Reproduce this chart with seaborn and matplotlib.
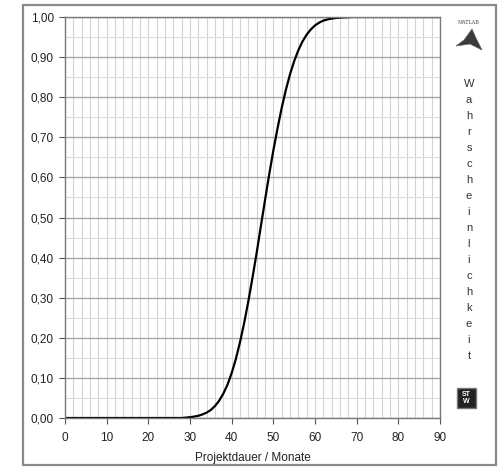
import matplotlib
matplotlib.use("Agg")
import matplotlib.pyplot as plt
import seaborn as sns
import pandas as pd
from matplotlib.patches import Rectangle, Polygon
from matplotlib.ticker import MultipleLocator, FuncFormatter

# ---- data ----
months = list(range(0, 91))
prob = ([0.0] * 29 +
        [0.001, 0.002, 0.0035, 0.0055, 0.009, 0.0135, 0.020, 0.030, 0.043, 0.061,
         0.083, 0.112, 0.147, 0.189, 0.237, 0.291, 0.350, 0.412, 0.478, 0.543,
         0.607, 0.667, 0.722, 0.773, 0.818, 0.857, 0.890, 0.917, 0.939, 0.956,
         0.969, 0.979, 0.986, 0.991, 0.994, 0.996, 0.9975, 0.9985, 0.999, 0.9995] +
        [1.0] * 22)
x_ticks = [0, 10, 20, 30, 40, 50, 60, 70, 80, 90]
y_ticks = [0.0, 0.1, 0.2, 0.3, 0.4, 0.5, 0.6, 0.7, 0.8, 0.9, 1.0]
x_label = "Projektdauer / Monate"
side_label = "Wahrscheinlichkeit"

sns.set_style("white")
plt.rcParams['font.family'] = ['Liberation Sans', 'DejaVu Sans']

W, H = 499, 467
fig = plt.figure(figsize=(W / 100, H / 100), dpi=100)
ax = fig.add_axes([65 / W, 1 - 418 / H, (440 - 65) / W, (418 - 17) / H])

df = pd.DataFrame({"Monate": months, "P": prob})
sns.lineplot(data=df, x="Monate", y="P", ax=ax, color="black", lw=1.6)

ax.set_xlim(0, 90)
ax.set_ylim(0, 1)
ax.set_xticks(x_ticks)
ax.set_yticks(y_ticks)
ax.xaxis.set_minor_locator(MultipleLocator(2))
ax.yaxis.set_minor_locator(MultipleLocator(0.05))
ax.yaxis.set_major_formatter(FuncFormatter(lambda v, p: f"{v:.2f}".replace('.', ',')))
ax.grid(which='major', axis='y', color='#a8a8a8', lw=1.0)
ax.grid(which='minor', axis='y', color='#dcdcdc', lw=0.8)
ax.grid(which='both', axis='x', color='#d4d4d4', lw=0.8)
ax.set_axisbelow(True)
ax.tick_params(which='major', direction='out', length=4, width=0.8, color='#555',
               labelsize=8.5, labelcolor='#222', bottom=True, left=True)
ax.tick_params(axis='x', which='major', pad=6)
ax.tick_params(axis='y', which='major', pad=4)
ax.tick_params(which='minor', length=0)
for s in ax.spines.values():
    s.set_color('#7a7a7a')
    s.set_linewidth(1.0)
ax.set_ylabel("")
ax.set_xlabel(x_label, fontsize=8.5, color='#222', labelpad=6)

# outer frame
fig.patches.append(Rectangle((23 / W, 1 - 465 / H), (496 - 23) / W, (465 - 5) / H,
                             transform=fig.transFigure, fill=False, ec='#8a8a8a', lw=1.6))

# vertical side label
for i, ch in enumerate(side_label):
    fig.text(469 / W, 1 - (84 + 16 * i) / H, ch, ha='center', va='center',
             fontsize=8, color='#333')

# MATLAB logo (approximation)
fig.text(469 / W, 1 - 22 / H, "MATLAB", ha='center', va='center', fontsize=3.5,
         color='#444', family='DejaVu Serif')
pts = [(456, 46), (464, 40), (472, 29), (476, 38), (482, 50), (470, 44)]
fig.patches.append(Polygon([(x / W, 1 - y / H) for x, y in pts], closed=True,
                           transform=fig.transFigure, fc='#3a3a3a', ec='#666', lw=0.5))

# STW logo
fig.patches.append(Rectangle((457 / W, 1 - 408 / H), 19 / W, 20 / H,
                             transform=fig.transFigure, fc='#222', ec='#777', lw=1.0))
fig.text(466.5 / W, 1 - 398 / H, "ST\nW", ha='center', va='center', fontsize=5,
         color='white', weight='bold', linespacing=0.9)

fig.savefig("out.png", dpi=100)
